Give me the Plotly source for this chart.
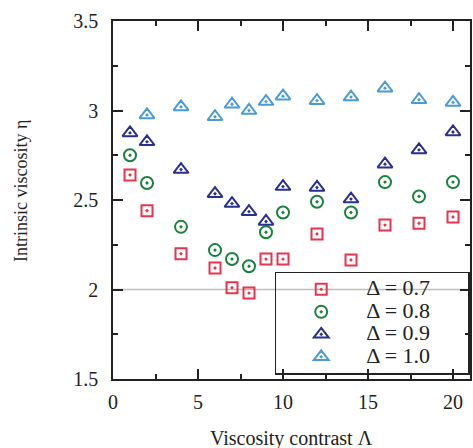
import plotly.graph_objects as go

lam = [1, 2, 4, 6, 7, 8, 9, 10, 12, 14, 16, 18, 20]
lam_10 = [2, 4, 6, 7, 8, 9, 10, 12, 14, 16, 18, 20]

eta_07 = [2.64, 2.44, 2.20, 2.12, 2.01, 1.98, 2.17, 2.17, 2.31, 2.165, 2.36, 2.37, 2.405]
eta_08 = [2.75, 2.595, 2.35, 2.22, 2.17, 2.13, 2.32, 2.43, 2.49, 2.43, 2.60, 2.52, 2.60]
eta_09 = [2.875, 2.825, 2.67, 2.535, 2.48, 2.435, 2.38, 2.575, 2.57, 2.505, 2.70, 2.78, 2.88]
eta_10 = [2.975, 3.02, 2.965, 3.035, 3.0, 3.05, 3.08, 3.055, 3.075, 3.125, 3.06, 3.045]

labels = ["Δ = 0.7", "Δ = 0.8", "Δ = 0.9", "Δ = 1.0"]

series = [
    (labels[0], lam, eta_07, "square-open-dot", "#e8344f", 11),
    (labels[1], lam, eta_08, "circle-open-dot", "#18823c", 12),
    (labels[2], lam, eta_09, "triangle-up-open-dot", "#2b2f90", 13),
    (labels[3], lam_10, eta_10, "triangle-up-open-dot", "#4a9bd8", 13),
]

FONT = "Liberation Serif"
NB = "\u00a0"
fig = go.Figure()
for name, xs, ys, sym, col, sz in series:
    fig.add_trace(go.Scatter(
        x=xs, y=ys, mode="markers",
        name="<span style='font-size:22px'>" + name + NB * 6 + "</span>",
        marker=dict(symbol=sym, size=sz, color=col, line=dict(color=col, width=2)),
    ))

fig.add_shape(type="line", xref="paper", yref="y", x0=0, x1=1, y0=2, y1=2,
              line=dict(color="#bdbdbd", width=1.5), layer="below")

axis_common = dict(
    showgrid=False, zeroline=False, showline=True, linecolor="#222", linewidth=1.5,
    mirror="allticks", ticks="inside", ticklen=10, tickwidth=1.5, tickcolor="#222",
    tickfont=dict(family=FONT, size=20, color="#222"),
)
fig.update_xaxes(range=[0, 21], tick0=0, dtick=5, ticklabelstandoff=4,
                 minor=dict(dtick=2.5, ticks="inside", ticklen=5, tickwidth=1.5, tickcolor="#222"),
                 **axis_common)
fig.update_yaxes(range=[1.5, 3.5], tick0=1.5, dtick=0.5, tickformat="~g", ticklabelstandoff=9,
                 minor=dict(dtick=0.25, ticks="inside", ticklen=5, tickwidth=1.5, tickcolor="#222"),
                 **axis_common)

fig.add_annotation(text="Viscosity contrast Λ", xref="paper", yref="paper", x=0.5, y=0,
                   xanchor="center", yanchor="middle",
                   yshift=-59, showarrow=False, font=dict(family=FONT, size=20, color="#222"))
fig.add_annotation(text="Intrinsic viscosity η", xref="paper", yref="paper", x=0, y=0.525,
                   xanchor="center", yanchor="middle",
                   xshift=-92, textangle=-90, showarrow=False,
                   font=dict(family=FONT, size=18, color="#222"))

fig.update_layout(
    width=473, height=448,
    margin=dict(l=113, r=1, t=21, b=69),
    plot_bgcolor="white", paper_bgcolor="white",
    showlegend=True,
    legend=dict(x=0.453, y=0.300, xanchor="left", yanchor="top",
                bgcolor="rgba(0,0,0,0)", bordercolor="#222", borderwidth=1.5,
                font=dict(family=FONT, size=15, color="#222"),
                itemwidth=80, tracegroupgap=0),
)

fig.write_html("out.html", config={"displayModeBar": False},
               post_script="document.body.style.margin='0';")
